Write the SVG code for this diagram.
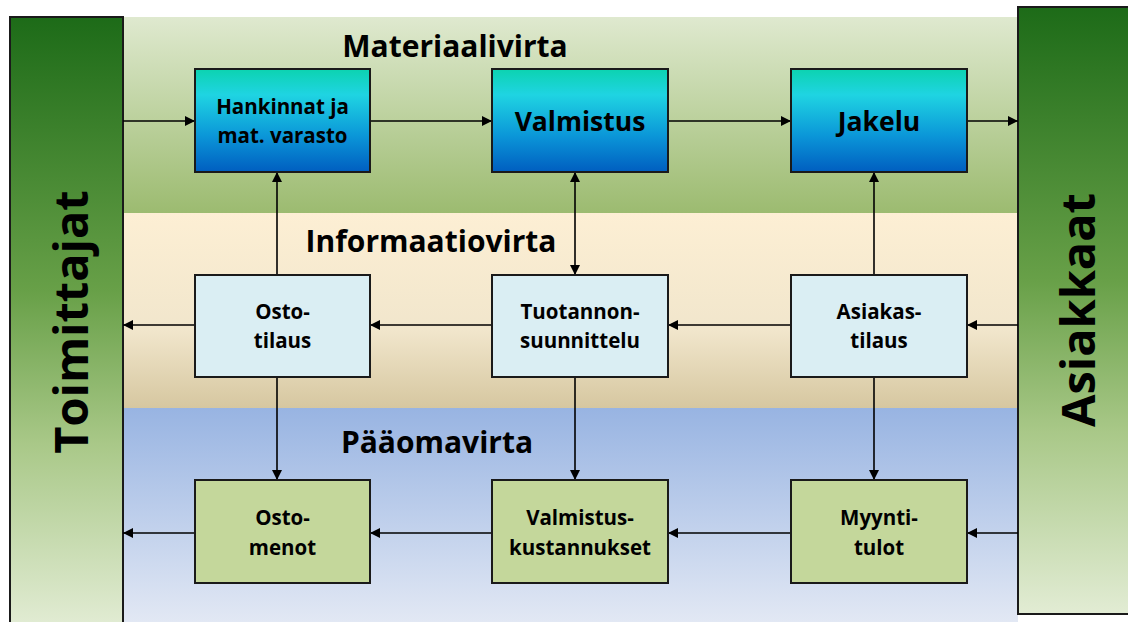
<svg xmlns="http://www.w3.org/2000/svg" width="1128" height="622" viewBox="0 0 1128 622">
  <defs>
    <linearGradient id="gBar" x1="0" y1="0" x2="0" y2="1">
      <stop offset="0" stop-color="#1d6b18"/>
      <stop offset="0.45" stop-color="#68a048"/>
      <stop offset="0.7" stop-color="#a9c888"/>
      <stop offset="1" stop-color="#e2ecd4"/>
    </linearGradient>
    <linearGradient id="gMat" x1="0" y1="0" x2="0" y2="1">
      <stop offset="0" stop-color="#dfe9cf"/>
      <stop offset="1" stop-color="#9cbb70"/>
    </linearGradient>
    <linearGradient id="gInfo" x1="0" y1="0" x2="0" y2="1">
      <stop offset="0" stop-color="#fdefd4"/>
      <stop offset="0.6" stop-color="#f1e6cc"/>
      <stop offset="1" stop-color="#d6c7a0"/>
    </linearGradient>
    <linearGradient id="gCap" x1="0" y1="0" x2="0" y2="1">
      <stop offset="0" stop-color="#98b4e2"/>
      <stop offset="1" stop-color="#e2e8f4"/>
    </linearGradient>
    <linearGradient id="gBlue" x1="0" y1="0" x2="0" y2="1">
      <stop offset="0" stop-color="#0cd3b0"/>
      <stop offset="0.25" stop-color="#1fd4e2"/>
      <stop offset="0.65" stop-color="#0b96d8"/>
      <stop offset="1" stop-color="#005ec0"/>
    </linearGradient>
    <marker id="arr" viewBox="0 0 10 10" refX="10" refY="5" markerWidth="10" markerHeight="10" markerUnits="userSpaceOnUse" orient="auto-start-reverse">
      <path d="M0,0 L10,5 L0,10 z" fill="#000"/>
    </marker>
    <style>
      .box { stroke: #1a1a1a; stroke-width: 2; }
      .blue { fill: url(#gBlue); }
      .info { fill: #daeef3; }
      .cap { fill: #c4d79b; }
      .bar { fill: url(#gBar); stroke: #1a1a1a; stroke-width: 2; }
      text { font-family: "Open Sans", "Liberation Sans", sans-serif; font-weight: bold; fill: #000; text-anchor: middle; }
      .t18 { font-size: 20.5px; }
      .t24 { font-size: 26.5px; }
      .head { font-size: 30px; }
      .big { font-size: 47px; }
      .conn line { stroke: #000; stroke-width: 1.6; marker-end: url(#arr); }
    </style>
  </defs>

  <rect width="1128" height="622" fill="#ffffff"/>

  <!-- flow bands -->
  <rect x="123" y="17" width="895" height="196" fill="url(#gMat)"/>
  <rect x="123" y="213" width="895" height="195" fill="url(#gInfo)"/>
  <rect x="123" y="408" width="895" height="214" fill="url(#gCap)"/>

  <text class="head" x="455" y="57">Materiaalivirta</text>
  <text class="head" x="431" y="252">Informaatiovirta</text>
  <text class="head" x="437" y="453">Pääomavirta</text>

  <!-- side parties -->
  <g id="toimittajat">
    <rect class="bar" x="10" y="17" width="113" height="610"/>
    <text class="big" transform="translate(88,322) rotate(-90)">Toimittajat</text>
  </g>
  <g id="asiakkaat">
    <rect class="bar" x="1018" y="7" width="115" height="607"/>
    <text class="big" transform="translate(1095,310) rotate(-90)">Asiakkaat</text>
  </g>

  <!-- connectors -->
  <g id="connectors" class="conn">
    <line x1="123" y1="121" x2="195" y2="121"/>
    <line x1="370" y1="121" x2="492" y2="121"/>
    <line x1="668" y1="121" x2="791" y2="121"/>
    <line x1="967" y1="121" x2="1018" y2="121"/>

    <line x1="277" y1="275" x2="277" y2="172"/>
    <line x1="575" y1="275" x2="575" y2="172" marker-start="url(#arr)"/>
    <line x1="874" y1="275" x2="874" y2="172"/>

    <line x1="1018" y1="325" x2="967" y2="325"/>
    <line x1="791" y1="325" x2="668" y2="325"/>
    <line x1="492" y1="325" x2="370" y2="325"/>
    <line x1="195" y1="325" x2="123" y2="325"/>

    <line x1="277" y1="377" x2="277" y2="480"/>
    <line x1="575" y1="377" x2="575" y2="480"/>
    <line x1="874" y1="377" x2="874" y2="480"/>

    <line x1="1018" y1="533" x2="967" y2="533"/>
    <line x1="791" y1="533" x2="668" y2="533"/>
    <line x1="492" y1="533" x2="370" y2="533"/>
    <line x1="195" y1="533" x2="123" y2="533"/>
  </g>

  <!-- material flow -->
  <g id="hankinnat">
    <rect class="box blue" x="195" y="69" width="175" height="103"/>
    <text class="t18" x="282.5" y="114">Hankinnat ja</text>
    <text class="t18" x="282.5" y="143">mat. varasto</text>
  </g>
  <g id="valmistus">
    <rect class="box blue" x="492" y="69" width="176" height="103"/>
    <text class="t24" x="580" y="131">Valmistus</text>
  </g>
  <g id="jakelu">
    <rect class="box blue" x="791" y="69" width="176" height="103"/>
    <text class="t24" x="879" y="131">Jakelu</text>
  </g>

  <!-- information flow -->
  <g id="ostotilaus">
    <rect class="box info" x="195" y="275" width="175" height="102"/>
    <text class="t18" x="282.5" y="319">Osto-</text>
    <text class="t18" x="282.5" y="348">tilaus</text>
  </g>
  <g id="tuotannonsuunnittelu">
    <rect class="box info" x="492" y="275" width="176" height="102"/>
    <text class="t18" x="580" y="319">Tuotannon-</text>
    <text class="t18" x="580" y="348">suunnittelu</text>
  </g>
  <g id="asiakastilaus">
    <rect class="box info" x="791" y="275" width="176" height="102"/>
    <text class="t18" x="879" y="319">Asiakas-</text>
    <text class="t18" x="879" y="348">tilaus</text>
  </g>

  <!-- capital flow -->
  <g id="ostomenot">
    <rect class="box cap" x="195" y="480" width="175" height="103"/>
    <text class="t18" x="282.5" y="525">Osto-</text>
    <text class="t18" x="282.5" y="555">menot</text>
  </g>
  <g id="valmistuskustannukset">
    <rect class="box cap" x="492" y="480" width="176" height="103"/>
    <text class="t18" x="580" y="525">Valmistus-</text>
    <text class="t18" x="580" y="555">kustannukset</text>
  </g>
  <g id="myyntitulot">
    <rect class="box cap" x="791" y="480" width="176" height="103"/>
    <text class="t18" x="879" y="525">Myynti-</text>
    <text class="t18" x="879" y="555">tulot</text>
  </g>
</svg>
